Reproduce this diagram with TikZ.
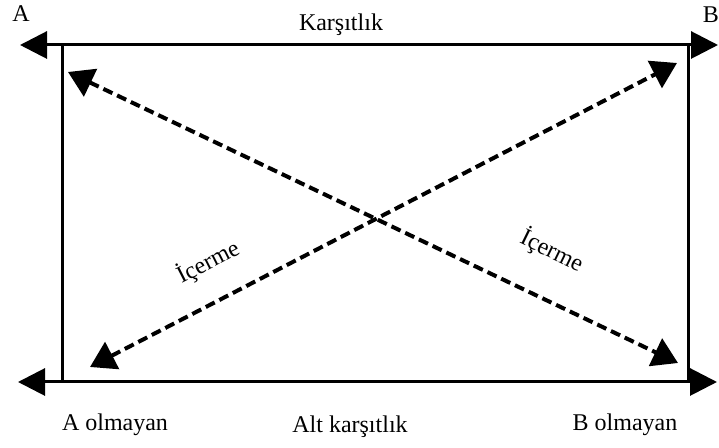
\documentclass[tikz,border=0pt]{standalone}
\usepackage{fontspec}
\setmainfont{Liberation Serif}
\usetikzlibrary{arrows.meta}

\begin{document}
\begin{tikzpicture}[
            x=0.5pt, y=-0.5pt,
            solidarrow/.style={
                    line width=1.5pt,
                    -{Triangle[length=13.5pt, width=13.5pt]}
                },
            dasharrow/.style={
                    line width=2pt, dash pattern=on 5pt off 2.6pt,
                    {Triangle[length=12.5pt, width=15pt]}-{Triangle[length=12.5pt, width=15pt]}
                },
            edge/.style={line width=1.5pt},
            label/.style={font=\fontsize{12pt}{14pt}\selectfont, inner sep=0pt}
        ]
        \useasboundingbox (0,0) rectangle (719,448);

        % corners of the square
        \coordinate (tl) at (62,45);
        \coordinate (tr) at (688,45);
        \coordinate (bl) at (62,382);
        \coordinate (br) at (688,382);
        \coordinate (tltip) at (20,45);
        \coordinate (trtip) at (718,45);
        \coordinate (bltip) at (18,382);
        \coordinate (brtip) at (717,382);
        \coordinate (mid) at (373,45);
        \coordinate (midb) at (373,382);

        % diagonal ends
        \coordinate (d1a) at (68,72);
        \coordinate (d1b) at (678,363);
        \coordinate (d2a) at (90,367);
        \coordinate (d2b) at (677,63);

        \draw[solidarrow] (mid) -- (tltip);
        \draw[solidarrow] (mid) -- (trtip);
        \draw[solidarrow] (midb) -- (bltip);
        \draw[solidarrow] (midb) -- (brtip);
        \draw[edge] (tl) -- (bl);
        \draw[edge] (tr) -- (br);

        \draw[dasharrow] (d1a) -- (d1b);
        \draw[dasharrow] (d2a) -- (d2b);

        \node[label] (a) at (21,14) {A};
        \node[label] (b) at (711,15) {B};
        \node[label] (kar) at (341,25) {Karşıtlık};
        \node[label] (nota) at (115,425) {A olmayan};
        \node[label] (alt) at (350,427) {Alt karşıtlık};
        \node[label] (notb) at (625,425) {B olmayan};
        \node[label, rotate=27] (ic1) at (208,262) {İçerme};
        \node[label, rotate=-26] (ic2) at (552,251) {İçerme};
    \end{tikzpicture}
\end{document}
